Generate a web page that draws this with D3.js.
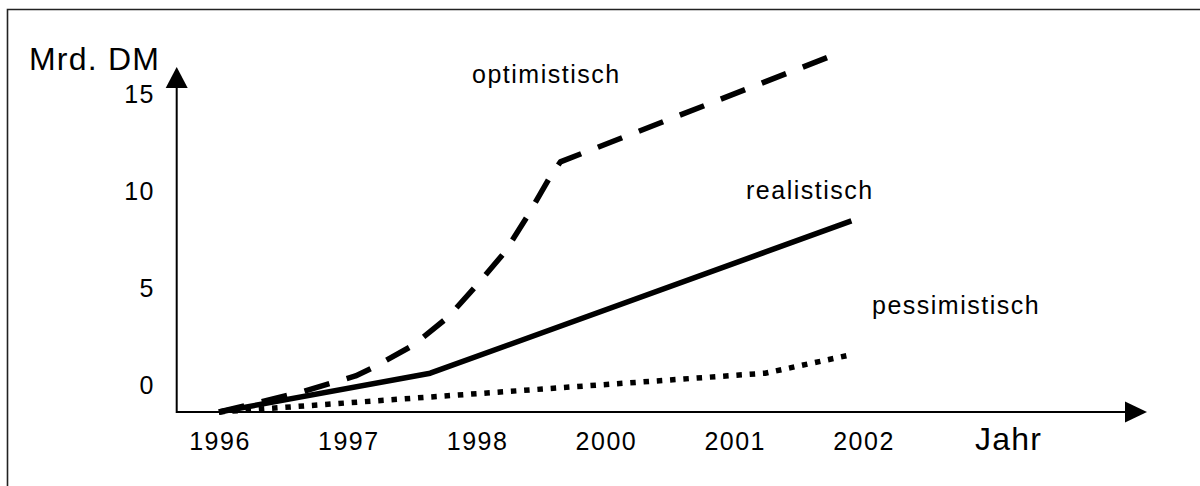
<!DOCTYPE html>
<html>
<head>
<meta charset="utf-8">
<script src="https://cdn.jsdelivr.net/npm/d3@7"></script>
<style>
  body { margin: 0; background: #fff; }
  text { font-family: "Liberation Sans", Arial, sans-serif; fill: #000; }
</style>
</head>
<body>
<div id="chart"></div>
<script>
// Data (x = position along the year axis, 0 = 1996 ... 5 = 2002; y = Mrd. DM)
const yearLabels = ['1996', '1997', '1998', '2000', '2001', '2002'];
const yTicks = [0, 5, 10, 15];

const optimistisch = [
  [0, 0], [0.64, 1.03], [1.06, 1.86], [1.22, 2.37], [1.51, 3.45],
  [1.78, 4.9], [2.01, 6.6], [2.22, 8.25], [2.4, 10.15], [2.57, 12.11],
  [2.65, 12.89], [4.81, 18.5]
];
const realistisch = [[0, 0], [1.64, 2.0], [4.91, 9.85]];
const pessimistisch = [[0, 0], [4.24, 2.0], [4.9, 2.94]];

const width = 1200;
const height = 486;

const svg = d3.select('#chart')
  .append('svg')
  .attr('width', width)
  .attr('height', height);

// Frame (only top and left edges are inside the picture)
svg.append('path')
  .attr('d', 'M7.5,486 V9.5 H1200')
  .attr('fill', 'none')
  .attr('stroke', '#222')
  .attr('stroke-width', 1.6);

// Scales
const x = d3.scaleLinear().domain([0, 5]).range([219, 863]);
const y = d3.scaleLinear().domain([0, 15]).range([412, 121]);

const axisX0 = 176.7;
const axisY0 = y(0);

// Axes with arrow heads
svg.append('line')
  .attr('x1', axisX0).attr('y1', axisY0)
  .attr('x2', 1127).attr('y2', axisY0)
  .attr('stroke', '#000').attr('stroke-width', 2);
svg.append('polygon')
  .attr('points', `1125,${axisY0 - 10.5} 1147,${axisY0} 1125,${axisY0 + 10.5}`)
  .attr('fill', '#000');

svg.append('line')
  .attr('x1', axisX0).attr('y1', axisY0 + 1)
  .attr('x2', axisX0).attr('y2', 86)
  .attr('stroke', '#000').attr('stroke-width', 2);
svg.append('polygon')
  .attr('points', `${axisX0 - 11},88 ${axisX0},67 ${axisX0 + 11},88`)
  .attr('fill', '#000');

// Tick labels
svg.selectAll('.ylab')
  .data(yTicks)
  .enter().append('text')
  .attr('class', 'ylab')
  .attr('x', 155)
  .attr('y', d => y(d) - 18)
  .attr('text-anchor', 'end')
  .attr('font-size', 25)
  .attr('letter-spacing', 1.5)
  .text(d => d);

svg.selectAll('.xlab')
  .data(yearLabels)
  .enter().append('text')
  .attr('class', 'xlab')
  .attr('x', (d, i) => x(i) + 1)
  .attr('y', 450)
  .attr('text-anchor', 'middle')
  .attr('font-size', 25)
  .attr('letter-spacing', 1.5)
  .text(d => d);

// Axis titles
svg.append('text')
  .attr('x', 29).attr('y', 70)
  .attr('font-size', 32)
  .attr('letter-spacing', 1.2)
  .text('Mrd. DM');

svg.append('text')
  .attr('x', 975).attr('y', 450)
  .attr('font-size', 32)
  .attr('letter-spacing', 1.2)
  .text('Jahr');

// Lines
const line = d3.line()
  .x(d => x(d[0]))
  .y(d => y(d[1]));

const series = [
  { name: 'optimistisch', values: optimistisch, dash: '26,18', label: [472, 83] },
  { name: 'realistisch', values: realistisch, dash: null, label: [746, 199] },
  { name: 'pessimistisch', values: pessimistisch, dash: '5.5,7.8', label: [872, 314] }
];

series.forEach(s => {
  svg.append('path')
    .datum(s.values)
    .attr('d', line)
    .attr('fill', 'none')
    .attr('stroke', '#000')
    .attr('stroke-width', 5.5)
    .attr('stroke-linejoin', 'round')
    .attr('stroke-dasharray', s.dash);

  svg.append('text')
    .attr('x', s.label[0])
    .attr('y', s.label[1])
    .attr('font-size', 25)
    .attr('letter-spacing', 1.5)
    .text(s.name);
});
</script>
</body>
</html>
